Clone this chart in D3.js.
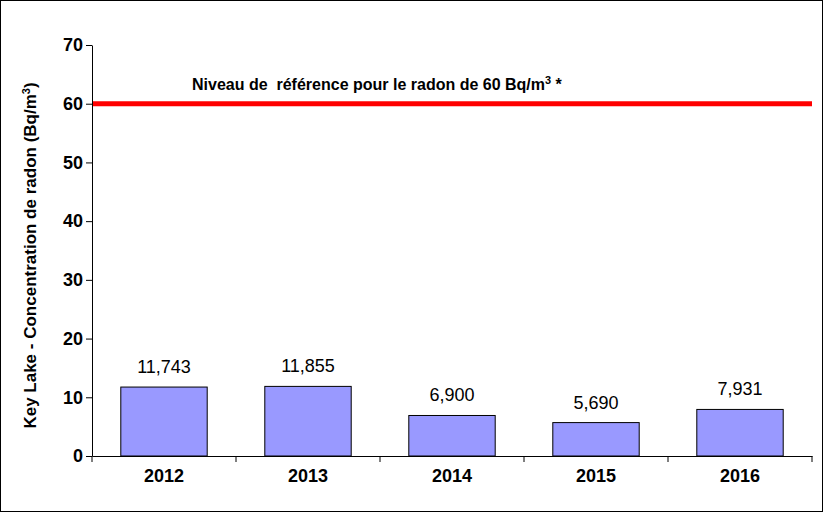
<!DOCTYPE html>
<html><head><meta charset="utf-8">
<script src="https://cdn.jsdelivr.net/npm/d3@7"></script>
<style>body{margin:0;background:#fff}text{font-family:"Liberation Sans",Arial,sans-serif}</style>
</head><body>
<svg id="chart" width="823" height="512"></svg>
<script>
var years = ["2012","2013","2014","2015","2016"];
var radon = [11.743, 11.855, 6.900, 5.690, 7.931];
var refLevel = 60;
var yTicks = [0,10,20,30,40,50,60,70];

var svg = d3.select("#chart");
svg.append("rect").attr("x",0.5).attr("y",0.5).attr("width",822).attr("height",511)
	.attr("fill","#fff").attr("stroke","#000");

var plotLeft = 92, plotRight = 812, plotTop = 45, plotBottom = 456;
var x = d3.scaleBand().domain(years).range([plotLeft,plotRight]).paddingInner(0.4).paddingOuter(0.2);
var xb = d3.scaleBand().domain(years).range([plotLeft,plotRight]);
var y = d3.scaleLinear().domain([0,70]).range([plotBottom,plotTop]);

// bars
svg.selectAll("rect.bar").data(radon).enter().append("rect").attr("class","bar")
	.attr("x",function(d,i){return x(years[i]);})
	.attr("y",function(d){return y(d);})
	.attr("width",x.bandwidth())
	.attr("height",function(d){return plotBottom-y(d);})
	.attr("fill","#9999ff").attr("stroke","#000").attr("stroke-width",1);

svg.selectAll("text.val").data(radon).enter().append("text").attr("class","val")
	.attr("x",function(d,i){return x(years[i])+x.bandwidth()/2;})
	.attr("y",function(d){return y(d)-14;})
	.attr("text-anchor","middle").attr("font-size",18)
	.text(function(d){return d3.format(".3f")(d).replace(".",",");});

// reference line
svg.append("line").attr("x1",plotLeft).attr("x2",plotRight).attr("y1",y(refLevel)).attr("y2",y(refLevel))
	.attr("stroke","#ff0000").attr("stroke-width",5);
var t = svg.append("text").attr("x",192).attr("y",90).attr("font-size",16).attr("font-weight","bold");
t.append("tspan").text("Niveau de \u00a0référence pour le radon de 60 Bq/m");
t.append("tspan").attr("font-size",11).attr("dy",-6).text("3");
t.append("tspan").attr("dy",6).text("\u00a0*");

// axes
var yAxis = svg.append("g").attr("transform","translate("+plotLeft+",0)")
	.call(d3.axisLeft(y).tickValues(yTicks).tickSize(6).tickSizeOuter(0));
yAxis.selectAll("text").attr("font-size",18).attr("font-weight","bold").attr("fill","#000")
	.attr("font-family","Liberation Sans");
var xAxis = svg.append("g").attr("transform","translate(0,"+plotBottom+")")
	.call(d3.axisBottom(xb).tickSize(0).tickSizeOuter(0));
xAxis.selectAll("text").attr("font-size",18).attr("font-weight","bold").attr("fill","#000")
	.attr("dy","1.3em").attr("font-family","Liberation Sans");
svg.selectAll(".domain").attr("stroke","#000");
svg.selectAll(".tick line").attr("stroke","#000");
xAxis.selectAll("line.sep").data(years.concat(["end"])).enter().append("line")
	.attr("x1",function(d,i){return plotLeft+i*xb.step();})
	.attr("x2",function(d,i){return plotLeft+i*xb.step();})
	.attr("y1",0).attr("y2",6).attr("stroke","#000");

// y title
var yt = svg.append("text").attr("transform","translate(36,"+((plotTop+plotBottom)/2+5)+") rotate(-90)")
	.attr("text-anchor","middle").attr("font-size",17).attr("font-weight","bold");
yt.append("tspan").text("Key Lake - Concentration de radon (Bq/m");
yt.append("tspan").attr("font-size",11).attr("dy",-6).text("3");
yt.append("tspan").attr("dy",6).text(")");
</script>
</body></html>
